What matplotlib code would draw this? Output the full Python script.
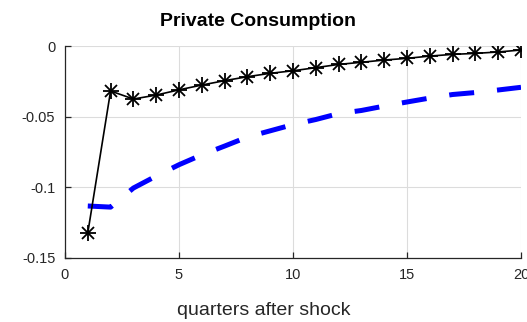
import numpy as np
import matplotlib.pyplot as plt

quarters = np.arange(1, 21)
model_irf = [-0.1323, -0.0318, -0.0375, -0.0347, -0.0310, -0.0276, -0.0245,
             -0.0217, -0.0193, -0.0175, -0.0153, -0.0130, -0.0115, -0.0099,
             -0.0087, -0.0071, -0.0059, -0.0052, -0.0042, -0.0028]
alt_irf = [-0.1132, -0.1140, -0.1005, -0.0920, -0.0840, -0.0770, -0.0708,
           -0.0644, -0.0600, -0.0556, -0.0520, -0.0478, -0.0456, -0.0425,
           -0.0396, -0.0368, -0.0343, -0.0329, -0.0311, -0.0292]
xticks = [0, 5, 10, 15, 20]
yticks = [-0.15, -0.1, -0.05, 0]
yticklabels = ["-0.15", "-0.1", "-0.05", "0"]

plt.rcParams["font.family"] = ["Liberation Sans", "DejaVu Sans"]

fig = plt.figure(figsize=(5.27, 3.22), dpi=100)
ax = fig.add_axes([0.1233, 0.1988, 0.8653, 0.6582])

ax.plot(quarters, alt_irf, color="#0000ff", lw=3.6,
        ls=(0, (5, 4.6)), dash_capstyle="butt", zorder=3)
ax.plot(quarters, model_irf, color="black", lw=1.2, zorder=4)
ax.plot(quarters, model_irf, ls="none", marker="+", ms=11, mew=1.3,
        color="black", zorder=5)
ax.plot(quarters, model_irf, ls="none", marker="x", ms=8, mew=1.3,
        color="black", zorder=5)

ax.set_xlim(0, 20)
ax.set_ylim(-0.15, 0)
ax.set_xticks(xticks)
ax.set_yticks(yticks)
ax.set_yticklabels(yticklabels)
ax.grid(True, color="#dcdcdc", lw=0.8)
ax.set_axisbelow(True)
for side in ("top", "right"):
    ax.spines[side].set_visible(False)
for side in ("left", "bottom"):
    ax.spines[side].set_color("#262626")
    ax.spines[side].set_linewidth(0.9)
ax.tick_params(direction="in", length=4, width=0.9, color="#262626",
               labelsize=10.5, labelcolor="#262626", pad=7)

fig.text(0.4905, 0.920, "Private Consumption", fontsize=14,
         fontweight="bold", ha="center", va="baseline")
fig.text(0.500, 0.0217, "quarters after shock", fontsize=14,
         color="#262626", ha="center", va="baseline")

fig.savefig("out.png", dpi=100)
